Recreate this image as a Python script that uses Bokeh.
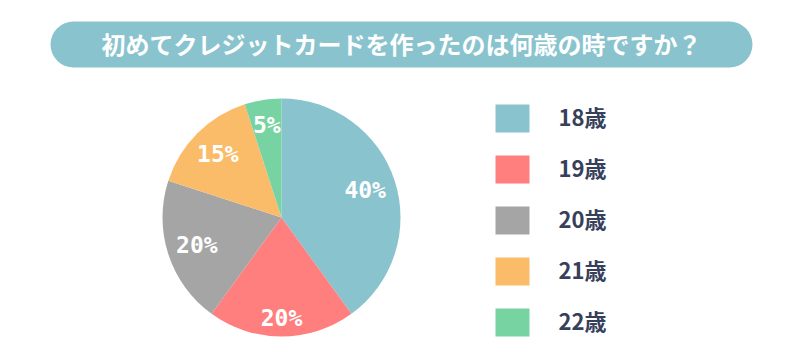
import math
from bokeh.plotting import figure
from bokeh.models import Range1d, BoxAnnotation, ColumnDataSource
from bokeh.core.properties import value
from bokeh.embed import file_html
from bokeh.resources import INLINE

title = "初めてクレジットカードを作ったのは何歳の時ですか？"
categories = ["18歳", "19歳", "20歳", "21歳", "22歳"]
shares = [40, 20, 20, 15, 5]
colors = ["#89C3CE", "#FF7F7F", "#A5A5A5", "#FBBC6A", "#77D4A2"]

W, H = 784, 344
FONT = "Noto Sans CJK JP"
NUM_FONT = "DejaVu Sans Mono"

p = figure(width=W, height=H, output_backend="svg", toolbar_location=None,
           x_range=Range1d(0, W), y_range=Range1d(0, H), min_border=0)
p.axis.visible = False
p.grid.visible = False
p.outline_line_color = None
p.background_fill_color = "white"
p.border_fill_color = "white"

def py(page_y):
    return H - page_y

def px(page_x):
    return page_x

# Title banner
banner = BoxAnnotation(left=px(50), right=px(752), top=py(21), bottom=py(67),
                       fill_color="#89C3CE", fill_alpha=1.0, line_color=None,
                       border_radius=23, level="underlay")
p.add_layout(banner)
p.text(x=[px(401)], y=[py(43)], text=[title], text_color="white",
       text_font=value(FONT), text_font_style="bold", text_font_size="24px",
       text_align="center", text_baseline="middle")

# Pie
cx, cy, r = px(281), py(217), 119
total = sum(shares)
starts, ends, mids = [], [], []
cum = 0
for s in shares:
    a0 = math.pi / 2 - 2 * math.pi * cum / total
    cum += s
    a1 = math.pi / 2 - 2 * math.pi * cum / total
    starts.append(a0)
    ends.append(a1)
    mids.append((a0 + a1) / 2)

src = ColumnDataSource(dict(start=starts, end=ends, color=colors))
p.wedge(x=cx, y=cy, radius=r, start_angle="start", end_angle="end",
        direction="clock", fill_color="color", line_color=None, source=src)

label_r = [88, 100, 89, 90, 94]
lx = [cx + lr * math.cos(m) for lr, m in zip(label_r, mids)]
ly = [cy + lr * math.sin(m) for lr, m in zip(label_r, mids)]
p.text(x=lx, y=ly, text=[f"{s}%" for s in shares], text_color="white",
       text_font=value(NUM_FONT), text_font_style="bold", text_font_size="23px",
       text_align="center", text_baseline="middle")

# Legend
row_y = [py(118 + 51 * i) for i in range(len(categories))]
p.rect(x=[px(512)] * len(categories), y=row_y, width=34, height=28,
       fill_color=colors, line_color=None)
p.text(x=[px(558)] * len(categories), y=[y + 3 for y in row_y], text=categories,
       text_color="#36405A", text_font=value(FONT), text_font_style="bold",
       text_font_size="22px", text_align="left", text_baseline="middle")

open("out.html", "w").write(file_html(p, INLINE))
